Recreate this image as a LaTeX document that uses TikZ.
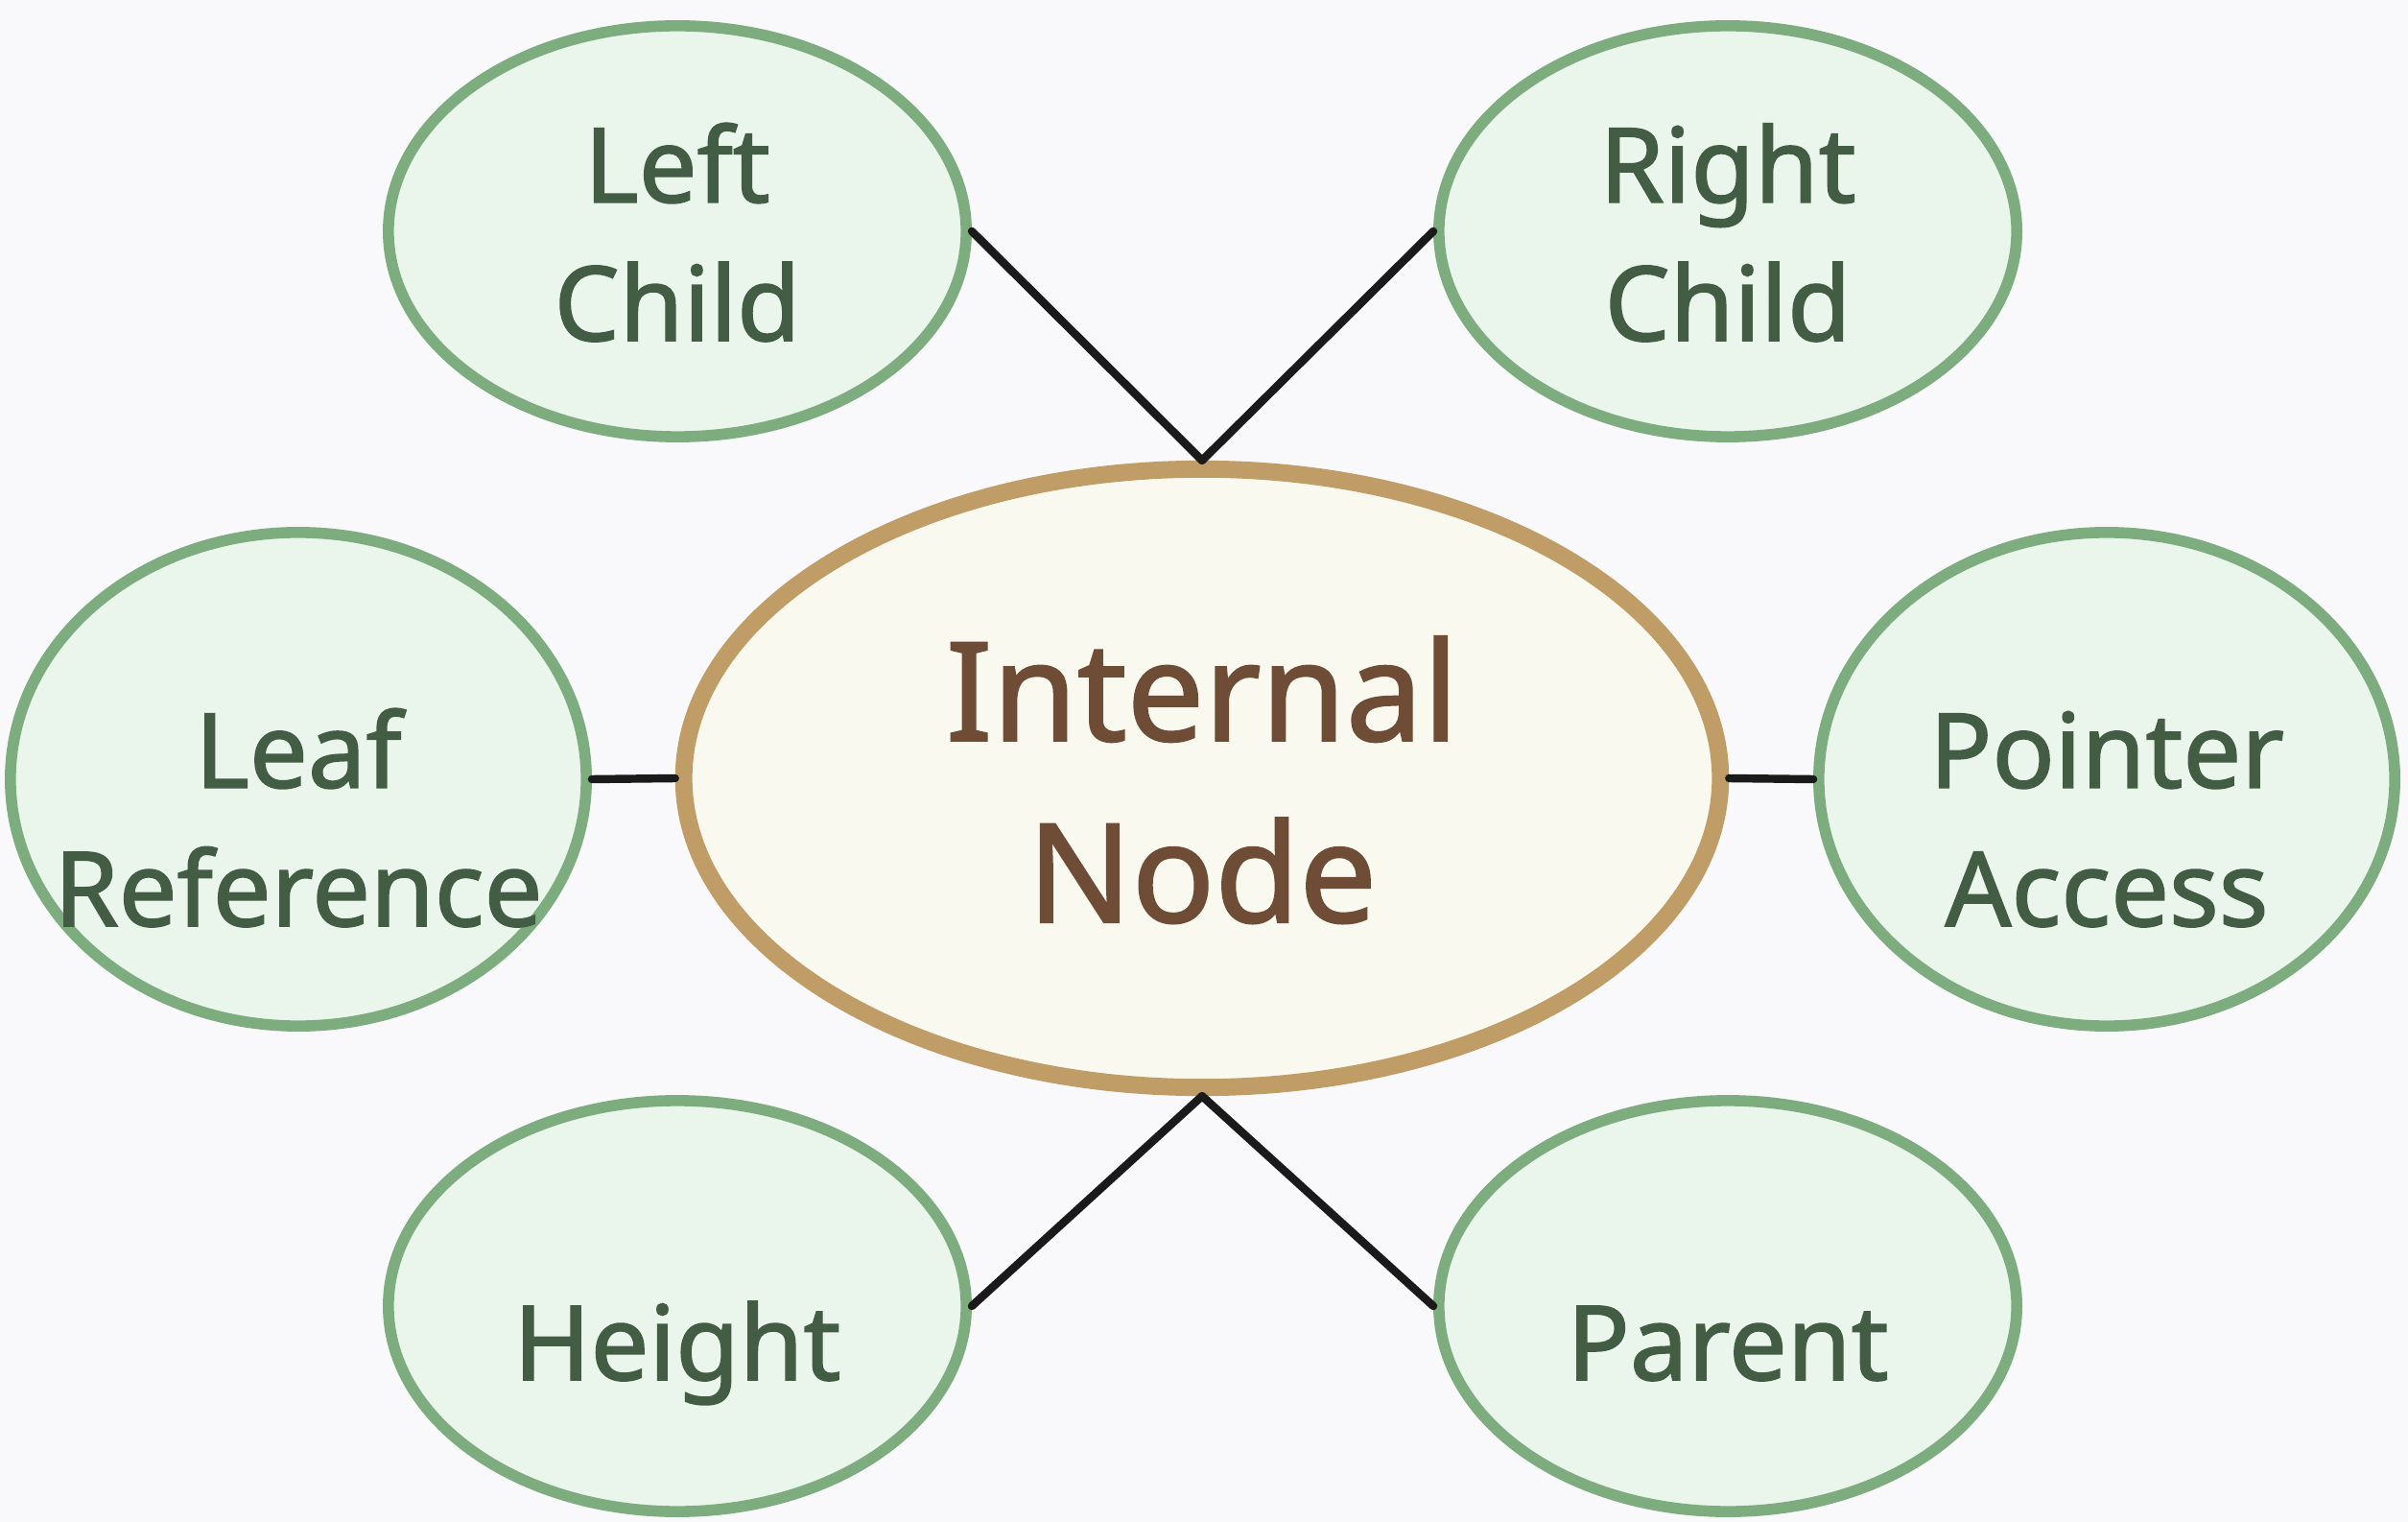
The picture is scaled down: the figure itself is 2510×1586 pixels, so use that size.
\documentclass[tikz,border=0pt]{standalone}
\usepackage{fontspec}
\setmainfont{Noto Sans}[FakeBold=1.5]
\definecolor{bgcol}{HTML}{F9F9FB}
\definecolor{leaffill}{HTML}{EAF5EB}
\definecolor{leafdraw}{HTML}{7DAD7E}
\definecolor{leaftext}{HTML}{435C44}
\definecolor{corefill}{HTML}{FAF9F0}
\definecolor{coredraw}{HTML}{C09D66}
\definecolor{coretext}{HTML}{6E4C35}
\definecolor{linkcol}{HTML}{1A1A1A}
\tikzset{
  field/.style={ellipse, fill=leaffill, draw=leafdraw, line width=3.3pt, inner sep=0pt},
  fieldlabel/.style={anchor=base, align=center, text=leaftext, font=\fontsize{30.7}{41}\selectfont},
  core/.style={ellipse, fill=corefill, draw=coredraw, line width=5.1pt, inner sep=0pt},
  corelabel/.style={anchor=base, align=center, text=coretext, font=\fontsize{40.7}{53.8}\selectfont},
  link/.style={draw=linkcol, line width=2.4pt, line cap=round}
}
\usetikzlibrary{shapes.geometric}
\begin{document}
\begin{tikzpicture}[x=0.01cm, y=-0.01cm]
        % Sfondo
        \fill [bgcol] (0,0) rectangle (2510,1586);
        \useasboundingbox (0,0) rectangle (2510,1586);
        % Nodi
        \node [core, minimum width=10.8cm, minimum height=6.44cm] (internal) at (1253,811) {};
        \node [field, minimum width=6.02cm, minimum height=4.28cm] (leftchild) at (706,241) {};
        \node [field, minimum width=6.02cm, minimum height=4.28cm] (rightchild) at (1801,241) {};
        \node [field, minimum width=6.0cm, minimum height=5.14cm] (leafref) at (311,812) {};
        \node [field, minimum width=6.0cm, minimum height=5.14cm] (ptraccess) at (2196,812) {};
        \node [field, minimum width=6.02cm, minimum height=4.28cm] (height) at (706,1361) {};
        \node [field, minimum width=6.02cm, minimum height=4.28cm] (parent) at (1801,1361) {};
        % Testi
        \node [corelabel] (internaltxt) at (1253,961) {Internal\\Node};
        \node [fieldlabel] (leftchildtxt) at (706,355) {Left\\Child};
        \node [fieldlabel] (rightchildtxt) at (1801,355) {Right\\Child};
        \node [fieldlabel] (leafreftxt) at (311,965) {Leaf\\Reference};
        \node [fieldlabel] (ptraccesstxt) at (2196,965) {Pointer\\Access};
        \node [fieldlabel] (heighttxt) at (706,1438) {Height};
        \node [fieldlabel] (parenttxt) at (1801,1438) {Parent};
        % Collegamenti
        \draw [link] (leftchild.east) -- (internal.north);
        \draw [link] (rightchild.west) -- (internal.north);
        \draw [link] (leafref.east) -- (internal.west);
        \draw [link] (ptraccess.west) -- (internal.east);
        \draw [link] (height.east) -- (internal.south);
        \draw [link] (parent.west) -- (internal.south);
    \end{tikzpicture}
\end{document}
